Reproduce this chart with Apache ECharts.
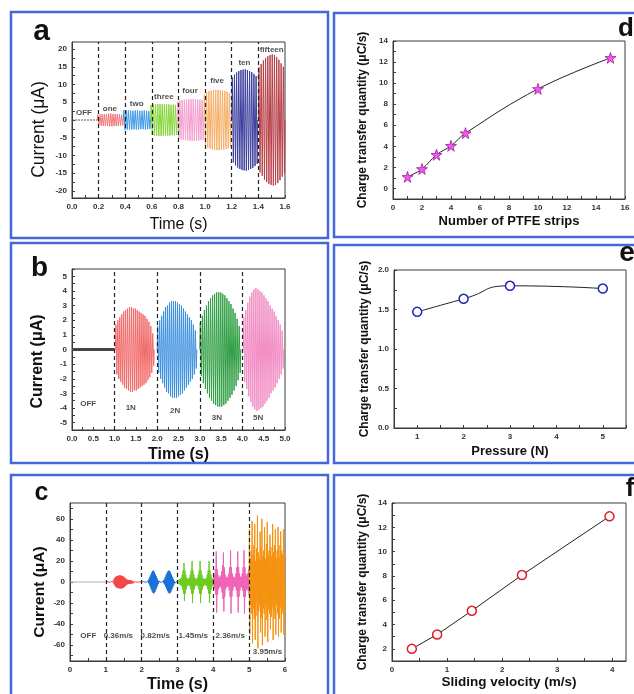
<!DOCTYPE html>
<html>
<head>
<meta charset="utf-8">
<script src="https://cdn.jsdelivr.net/npm/echarts@6.0.0/dist/echarts.min.js"></script>
<style>
  html, body { margin: 0; padding: 0; background: #ffffff; }
  #chart { width: 634px; height: 694px; }
</style>
</head>
<body>
<div id="chart"></div>
<script>
// ---------- (a) current vs. number of PTFE strips ----------
const stripNames = ['one', 'two', 'three', 'four', 'five', 'ten', 'fifteen'];
const stripSpans = [[0.19, 0.385], [0.385, 0.59], [0.59, 0.79], [0.79, 0.99], [0.99, 1.195], [1.2, 1.395], [1.4, 1.6]];
const stripPeaks = [
  [1.5, 1.6, 1.7, 1.7, 1.7, 1.8, 1.8, 1.7, 1.7, 1.7, 1.6, 1.5],
  [2.8, 2.7, 2.7, 2.7, 2.6, 2.7, 2.7, 2.6, 2.6, 2.7, 2.6, 2.5],
  [4.2, 4.4, 4.5, 4.5, 4.5, 4.4, 4.5, 4.4, 4.4, 4.3, 4.3, 4.2],
  [5.3, 5.5, 5.6, 5.7, 5.8, 5.8, 5.9, 5.9, 5.8, 5.8, 5.7, 5.6],
  [7.2, 7.8, 8.1, 8.3, 8.5, 8.5, 8.5, 8.4, 8.3, 8.2, 8.0, 7.6],
  [12.0, 12.8, 13.4, 13.8, 14.1, 14.2, 14.3, 14.1, 13.8, 13.5, 13.0, 12.4],
  [14.8, 15.8, 16.8, 17.5, 18.0, 18.3, 18.5, 18.3, 17.8, 17.0, 16.0, 15.0]
];
const offSpanA = [0, 0.19];
const dividersA = [0.2, 0.4, 0.6, 0.8, 1.0, 1.2, 1.4];
const ticksAx = [0, 0.2, 0.4, 0.6, 0.8, 1.0, 1.2, 1.4, 1.6];
const ticksAy = [-20, -15, -10, -5, 0, 5, 10, 15, 20];

// ---------- (b) current vs. pressure ----------
const forceNames = ['1N', '2N', '3N', '5N'];
const forceSpans = [[1.02, 1.93], [2.0, 2.93], [3.0, 3.96], [4.02, 4.97]];
const forcePeaks = [
  [1.7, 2.0, 2.2, 2.4, 2.6, 2.7, 2.8, 2.9, 2.9, 2.8, 2.8, 2.7, 2.6, 2.5, 2.4, 2.3, 2.1, 1.9, 1.6, 1.1],
  [1.6, 2.0, 2.3, 2.6, 2.9, 3.0, 3.2, 3.3, 3.3, 3.3, 3.2, 3.1, 3.0, 2.8, 2.6, 2.4, 2.2, 2.0, 1.7, 1.3],
  [1.8, 2.3, 2.7, 3.0, 3.3, 3.5, 3.7, 3.8, 3.9, 3.9, 3.9, 3.8, 3.7, 3.5, 3.3, 3.1, 2.8, 2.5, 2.1, 1.6],
  [2.2, 2.7, 3.2, 3.6, 3.9, 4.1, 4.2, 4.1, 4.0, 3.9, 3.7, 3.5, 3.3, 3.0, 2.8, 2.6, 2.3, 2.0, 1.7, 1.3]
];
const offSpanB = [0, 1.0];
const dividersB = [1, 2, 3, 4];
const ticksBx = [0, 0.5, 1, 1.5, 2, 2.5, 3, 3.5, 4, 4.5, 5];
const ticksBy = [-5, -4, -3, -2, -1, 0, 1, 2, 3, 4, 5];

// ---------- (c) current vs. sliding velocity (40 samples per second) ----------
const speedNames = ['0.36m/s', '0.82m/s', '1.45m/s', '2.36m/s', '3.95m/s'];
const speedSpans = [[1, 2], [2, 3], [3, 4], [4, 5], [5, 6]];
const speedPeaks = [
  [0.3, 0.3, 0.3, 0.3, 0.4, 0.5, 0.6, 0.8, 1.5, 3.0, 4.2, 5.0, 5.5, 5.8, 6.0, 6.2, 6.2, 6.0, 5.8, 5.4,
   4.8, 4.0, 3.0, 2.4, 2.1, 1.9, 1.7, 1.6, 1.4, 1.2, 1.0, 0.8, 0.6, 0.4, 0.3, 0.3, 0.3, 0.3, 0.3, 0.3],
  [0.3, 0.3, 0.3, 0.3, 0.4, 0.4, 0.5, 1.2, 3.0, 5.0, 7.0, 9.0, 10.5, 10.8, 9.5, 7.5, 5.5, 3.5, 1.5, 0.7,
   0.5, 0.5, 0.6, 0.8, 1.2, 2.5, 4.5, 6.5, 8.5, 10.0, 10.8, 10.5, 9.0, 7.0, 5.0, 3.0, 1.2, 0.5, 0.3, 0.3],
  [1.5, 2, 2.5, 3, 4, 7, 11, 18, 11, 7, 4, 3, 3, 4, 7, 11, 20, 11, 7, 4,
   3, 3, 4, 7, 11, 20, 11, 7, 4, 3, 3, 3, 4, 7, 11, 20, 11, 7, 4, 3],
  [5, 7, 12, 29, 12, 7, 5, 4, 6, 10, 16, 28, 14, 7, 5, 4, 5, 8, 14, 30,
   14, 8, 5, 4, 5, 8, 14, 29, 14, 8, 5, 5, 8, 14, 30, 14, 8, 6, 8, 12],
  [50, 22, 30, 58, 25, 35, 55, 20, 32, 63, 28, 22, 48, 34, 60, 25, 30, 52, 22, 36,
   57, 26, 30, 45, 33, 24, 55, 28, 35, 50, 22, 30, 52, 35, 24, 48, 30, 26, 50, 28]
];
const offSpanC = [0, 1.0];
const dividersC = [1, 2, 3, 4, 5];
const ticksCx = [0, 1, 2, 3, 4, 5, 6];
const ticksCy = [-60, -40, -20, 0, 20, 40, 60];

// ---------- (d) (e) (f) charge transfer ----------
const stripCount = [1, 2, 3, 4, 5, 10, 15];
const stripCharge = [1.1, 1.85, 3.2, 4.05, 5.25, 9.45, 12.4];
const ticksDx = [0, 2, 4, 6, 8, 10, 12, 14, 16];
const ticksDy = [0, 2, 4, 6, 8, 10, 12, 14];

const pressure = [1, 2, 3, 5];
const pressureCharge = [1.47, 1.635, 1.80, 1.765];
const ticksEx = [1, 2, 3, 4, 5];
const ticksEy = [0, 0.5, 1.0, 1.5, 2.0];

const velocity = [0.36, 0.82, 1.45, 2.36, 3.95];
const velocityCharge = [2.0, 3.18, 5.13, 8.07, 12.9];
const ticksFx = [0, 1, 2, 3, 4];
const ticksFy = [2, 4, 6, 8, 10, 12, 14];

// ---------- styling helpers ----------
const FONT = "'Liberation Sans', Arial, Helvetica, sans-serif";
const INK = '#333333';
const FRAME = '#3a3a3a';

// major ticks plus one minor tick between neighbours (and beyond the ends, inside the range)
function withMinor(major, min, max) {
  const step = major[1] - major[0];
  const out = [];
  for (let v = major[0] - step / 2; v >= min - 1e-9; v -= step / 2) out.push(v);
  major.forEach(m => {
    out.push(m);
    const mid = m + step / 2;
    if (mid <= max + 1e-9) out.push(mid);
  });
  return out.filter(v => v >= min - 1e-9 && v <= max + 1e-9);
}

function axis(gridIndex, min, max, labels, digits, name, gap, nameStyle) {
  return {
    type: 'value', gridIndex, min, max,
    name, nameLocation: 'middle', nameGap: gap,
    nameTextStyle: Object.assign({ fontFamily: FONT, color: '#111' }, nameStyle),
    axisLine: { show: true, onZero: false, lineStyle: { color: FRAME, width: 1 } },
    axisTick: { show: true, inside: true, length: 3, customValues: withMinor(labels, min, max),
                lineStyle: { color: FRAME, width: 1 } },
    axisLabel: { customValues: labels, formatter: v => (+v).toFixed(digits),
                 fontSize: 8, fontWeight: 'bold', color: INK, margin: 5, fontFamily: FONT },
    splitLine: { show: false }
  };
}

// alternating +/- excursions, one cycle per listed peak
function wave(span, peaks) {
  const [t0, t1] = span;
  const step = (t1 - t0) / peaks.length;
  const pts = [[t0, 0]];
  peaks.forEach((a, i) => {
    const t = t0 + i * step;
    pts.push([t + step * 0.25, a], [t + step * 0.75, -a]);
  });
  pts.push([t1, 0]);
  return pts;
}

function waveSeries(idx, span, peaks, color) {
  return {
    type: 'line', xAxisIndex: idx, yAxisIndex: idx, data: wave(span, peaks),
    showSymbol: false, symbol: 'none', animation: false,
    lineStyle: { color, width: 1 }, z: 2, silent: true
  };
}

function flatSeries(idx, span, color, width, type) {
  return {
    type: 'line', xAxisIndex: idx, yAxisIndex: idx, data: [[span[0], 0], [span[1], 0]],
    showSymbol: false, symbol: 'none', animation: false, silent: true,
    lineStyle: { color, width, type: type || 'solid' }, z: 2
  };
}

function dividerSeries(idx, xs) {
  return {
    type: 'line', xAxisIndex: idx, yAxisIndex: idx, data: [], animation: false, silent: true, z: 5,
    markLine: {
      silent: true, symbol: 'none', animation: false, label: { show: false },
      lineStyle: { color: '#222', width: 1.2, type: [4, 3] },
      data: xs.map(x => ({ xAxis: x }))
    }
  };
}

function textSeries(idx, items) {
  return {
    type: 'scatter', xAxisIndex: idx, yAxisIndex: idx, symbolSize: 1, animation: false, silent: true, z: 6,
    itemStyle: { color: 'rgba(0,0,0,0)' },
    label: { show: true, position: 'inside', formatter: p => p.name, fontSize: 8, fontWeight: 'bold',
             color: '#222', fontFamily: FONT },
    data: items.map(([name, x, y]) => ({ name, value: [x, y] }))
  };
}

const colorsA = ['#f27c7c', '#3f9ae8', '#86d63a', '#f59fd0', '#f5b068', '#3c3f9e', '#b84049'];
const colorsB = ['#f26b6b', '#3b8fe0', '#2f9e44', '#f28cc4'];
const colorsC = ['#f24545', '#1a6fd6', '#6acc1c', '#f062b5', '#f5920f'];

const STAR = 'path://M50,0 L61,35 L98,35 L68,57 L79,91 L50,70 L21,91 L32,57 L2,35 L39,35 Z';

// rotated titles: right padding slides the text down along the axis
const nameA = { fontSize: 17.5, fontWeight: 'normal', padding: [0, 19, 0, 0] };
const nameB = { fontSize: 16, fontWeight: 'bold', padding: [0, 24, 0, 0] };
const nameC = { fontSize: 15.5, fontWeight: 'bold', padding: [0, 20, 0, 0] };
const timeA = { fontSize: 16, fontWeight: 'normal' };
const timeBold = { fontSize: 16, fontWeight: 'bold' };
const chargeName = { fontSize: 12, fontWeight: 'bold' };
const xChargeName = { fontSize: 13, fontWeight: 'bold' };
const MU = '\u03bc';

const grids = [
  { left: 72, top: 42, width: 213, height: 156 },   // a
  { left: 72, top: 269, width: 213, height: 161 },  // b
  { left: 70, top: 503, width: 215, height: 159 },  // c
  { left: 393, top: 41, width: 232, height: 158 },  // d
  { left: 394, top: 270, width: 232, height: 158 }, // e
  { left: 392, top: 503, width: 234, height: 158 }  // f
].map(g => Object.assign({ show: true, borderColor: FRAME, borderWidth: 1, backgroundColor: '#ffffff' }, g));

const xAxes = [
  axis(0, 0, 1.6, ticksAx, 1, 'Time (s)', 19, timeA),
  axis(1, 0, 5, ticksBx, 1, 'Time (s)', 17, timeBold),
  axis(2, 0, 6, ticksCx, 0, 'Time (s)', 16, timeBold),
  axis(3, 0, 16, ticksDx, 0, 'Number of PTFE strips', 16, xChargeName),
  axis(4, 0.5, 5.5, ticksEx, 0, 'Pressure (N)', 17, xChargeName),
  axis(5, 0, 4.25, ticksFx, 0, 'Sliding velocity (m/s)', 12, Object.assign({}, xChargeName, { fontSize: 13.5 }))
];
const yAxes = [
  axis(0, -22, 22, ticksAy, 0, 'Current (' + MU + 'A)', 24, nameA),
  axis(1, -5.5, 5.5, ticksBy, 0, 'Current (' + MU + 'A)', 26, nameB),
  axis(2, -75, 75, ticksCy, 0, 'Current (' + MU + 'A)', 22, nameC),
  axis(3, -1, 14, ticksDy, 0, 'Charge transfer quantity (' + MU + 'C/s)', 24, chargeName),
  axis(4, 0, 2, ticksEy, 1, 'Charge transfer quantity (' + MU + 'C/s)', 23, chargeName),
  axis(5, 1, 14, ticksFy, 0, 'Charge transfer quantity (' + MU + 'C/s)', 23, chargeName)
];

const series = [];

// (a)
series.push(flatSeries(0, offSpanA, '#555', 1, [2, 1]));
stripSpans.forEach((s, i) => series.push(waveSeries(0, s, stripPeaks[i], colorsA[i])));
series.push(dividerSeries(0, dividersA));
series.push(textSeries(0, [
  ['OFF', 0.09, 1.9], [stripNames[0], 0.285, 3.2], [stripNames[1], 0.486, 4.7], [stripNames[2], 0.69, 6.6],
  [stripNames[3], 0.887, 8.3], [stripNames[4], 1.09, 11.1], [stripNames[5], 1.295, 16.2], [stripNames[6], 1.5, 19.9]
]));

// (b)
series.push(flatSeries(1, offSpanB, '#444', 3));
forceSpans.forEach((s, i) => series.push(waveSeries(1, s, forcePeaks[i], colorsB[i])));
series.push(dividerSeries(1, dividersB));
series.push(textSeries(1, [
  ['OFF', 0.38, -3.7], [forceNames[0], 1.38, -4.0], [forceNames[1], 2.42, -4.2],
  [forceNames[2], 3.4, -4.66], [forceNames[3], 4.37, -4.66]
]));

// (c)
series.push(flatSeries(2, offSpanC, '#b0b0b0', 1));
speedSpans.forEach((s, i) => series.push(waveSeries(2, s, speedPeaks[i], colorsC[i])));
series.push(dividerSeries(2, dividersC));
series.push(textSeries(2, [
  ['OFF', 0.51, -51], [speedNames[0], 1.35, -51], [speedNames[1], 2.38, -51],
  [speedNames[2], 3.44, -51], [speedNames[3], 4.47, -51], [speedNames[4], 5.51, -66]
]));

// (d)
series.push({
  type: 'line', xAxisIndex: 3, yAxisIndex: 3, smooth: 0.4, animation: false,
  data: stripCount.map((x, i) => [x, stripCharge[i]]),
  symbol: STAR, symbolSize: 11,
  itemStyle: { color: '#ee5cee', borderColor: '#a21ca2', borderWidth: 0.8 },
  lineStyle: { color: '#222', width: 1 }
});

// (e)
series.push({
  type: 'line', xAxisIndex: 4, yAxisIndex: 4, smooth: 0.6, animation: false,
  data: pressure.map((x, i) => [x, pressureCharge[i]]),
  symbol: 'circle', symbolSize: 9,
  itemStyle: { color: '#ffffff', borderColor: '#2424b8', borderWidth: 1.5 },
  lineStyle: { color: '#222', width: 1 }
});

// (f)
series.push({
  type: 'line', xAxisIndex: 5, yAxisIndex: 5, smooth: false, animation: false,
  data: velocity.map((x, i) => [x, velocityCharge[i]]),
  symbol: 'circle', symbolSize: 9,
  itemStyle: { color: '#ffffff', borderColor: '#e01c24', borderWidth: 1.5 },
  lineStyle: { color: '#222', width: 1 }
});

// panel frames and letters
const BLUE = '#4468d8';
const frames = [
  [11, 12, 317, 226], [334, 13, 310, 224],
  [11, 243, 317, 220], [334, 245, 310, 218],
  [11, 475, 317, 230], [334, 475, 310, 230]
].map(([x, y, w, h]) => ({
  type: 'rect', shape: { x, y, width: w, height: h }, silent: true, z: -10,
  style: { fill: '#ffffff', stroke: BLUE, lineWidth: 2.5 }
}));
const letters = [
  ['a', 41.5, 31.5, 30], ['b', 39.5, 268, 28], ['c', 41.5, 493, 25],
  ['d', 626, 29, 26], ['e', 627, 253, 28], ['f', 630, 489, 25]
].map(([t, x, y, s]) => ({
  type: 'text', x, y, silent: true, z: 10,
  style: { text: t, font: 'bold ' + s + 'px ' + FONT, fill: '#111', align: 'center', verticalAlign: 'middle' }
}));

const chart = echarts.init(document.getElementById('chart'), null, { renderer: 'canvas' });
chart.setOption({
  backgroundColor: '#ffffff',
  animation: false,
  grid: grids,
  xAxis: xAxes,
  yAxis: yAxes,
  series,
  graphic: frames.concat(letters)
});
</script>
</body>
</html>
